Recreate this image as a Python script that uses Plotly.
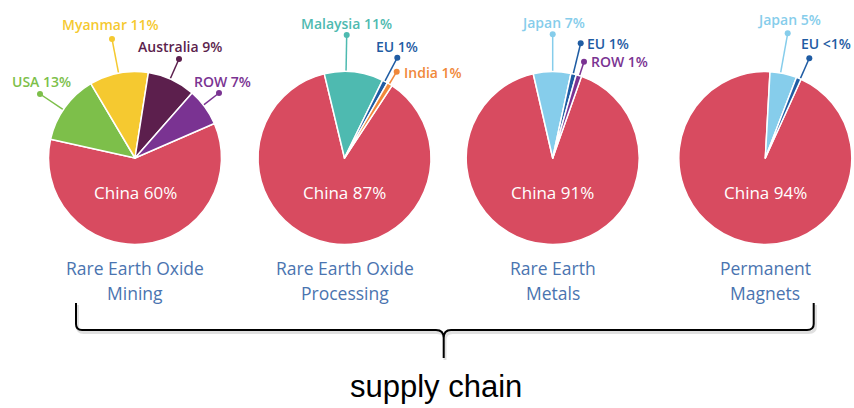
import plotly.graph_objects as go
import math

# ---------------- data ----------------
stages = ["Rare Earth Oxide<br>Mining", "Rare Earth Oxide<br>Processing",
          "Rare Earth<br>Metals", "Permanent<br>Magnets"]

mining_countries = ["China", "USA", "Myanmar", "Australia", "ROW"]
mining_shares = [60, 13, 11, 9, 7]

processing_countries = ["China", "Malaysia", "EU", "India"]
processing_shares = [87, 11, 1, 1]

metals_countries = ["China", "Japan", "EU", "ROW"]
metals_shares = [91, 7, 1, 1]

magnets_countries = ["China", "Japan", "EU"]
magnets_shares = [94, 5, 0.9]

axis_caption = "supply chain"

# ---------------- styling ----------------
W, H = 854, 408
COLORS = {
    "China": "#D84B60",
    "USA": "#7DBF4A",
    "Myanmar": "#F5C930",
    "Australia": "#5C1F4D",
    "ROW": "#7A3392",
    "Malaysia": "#4EBAB0",
    "EU": "#1F5CA3",
    "India": "#F0883A",
    "Japan": "#86CDEB",
}
TITLE_BLUE = "#4A74B0"
FONT = "Open Sans"


def share_text(v):
    return f"{v:g}%" if v >= 1 else "<1%"


# pie layout: centre (px), radius (px), start angle of the first slice
pie_layout = [
    dict(cx=135, cy=158, r=86.5, rotation=66.5),
    dict(cx=344.5, cy=158, r=86.5, rotation=33.3),
    dict(cx=552.7, cy=158, r=86.5, rotation=19.4),
    dict(cx=765.3, cy=158, r=86.5, rotation=24.4),
]

# callout placement per non-China slice: dot (px), label (px), anchor
callout_layout = [
    {"USA": (40, 94, 41, 81, "center"),
     "Myanmar": (112, 39, 110, 24, "center"),
     "Australia": (179, 59, 180, 46, "center"),
     "ROW": (219, 93, 222, 81, "center")},
    {"Malaysia": (346.7, 35, 346.7, 23, "center"),
     "EU": (397.3, 57.7, 397, 46, "center"),
     "India": (396.7, 71.7, 402, 72, "left")},
    {"Japan": (552.7, 34.3, 552.5, 22.5, "center"),
     "EU": (580.7, 43.3, 585, 43.3, "left"),
     "ROW": (584, 61.7, 588.5, 61.7, "left")},
    {"Japan": (787.7, 33.3, 788.8, 19.5, "center"),
     "EU": (809.3, 58.3, 853, 43.5, "right")},
]

series = [
    (mining_countries, mining_shares),
    (processing_countries, processing_shares),
    (metals_countries, metals_shares),
    (magnets_countries, magnets_shares),
]

fig = go.Figure()
annotations = []

# invisible anchor so the pixel-space axes exist
fig.add_trace(go.Scatter(x=[0, W], y=[0, H], mode="markers",
                         marker=dict(opacity=0), hoverinfo="skip",
                         showlegend=False))

for (countries, shares), pl, callouts, stage in zip(series, pie_layout,
                                                    callout_layout, stages):
    cx, cy, r = pl["cx"], pl["cy"], pl["r"]
    fig.add_trace(go.Pie(
        labels=countries, values=shares, sort=False, direction="clockwise",
        rotation=pl["rotation"], textinfo="none",
        marker=dict(colors=[COLORS[c] for c in countries],
                    line=dict(color="white", width=1.5)),
        domain=dict(x=[(cx - r) / W, (cx + r) / W],
                    y=[1 - (cy + r) / H, 1 - (cy - r) / H]),
        hoverinfo="label+value", showlegend=False,
    ))

    # China share written inside the pie
    annotations.append(dict(
        x=cx, y=cy + 34, xref="x", yref="y", showarrow=False,
        text=f"{countries[0]} {share_text(shares[0])}",
        font=dict(family=FONT, size=17, color="white", weight=500),
        xanchor="center", yanchor="middle"))

    # callouts for the smaller producers: dot, leader line towards centre
    for c, v in zip(countries[1:], shares[1:]):
        dx, dy, tx, ty, anchor = callouts[c]
        vx, vy = cx - dx, cy - dy
        dist = math.hypot(vx, vy)
        ex, ey = dx + vx / dist * (dist - r), dy + vy / dist * (dist - r)
        fig.add_trace(go.Scatter(
            x=[dx, ex], y=[dy, ey], mode="lines",
            line=dict(color=COLORS[c], width=1.5),
            hoverinfo="skip", showlegend=False))
        fig.add_trace(go.Scatter(
            x=[dx], y=[dy], mode="markers",
            marker=dict(color=COLORS[c], size=6),
            hoverinfo="skip", showlegend=False))
        annotations.append(dict(
            x=tx, y=ty, xref="x", yref="y", showarrow=False,
            text=f"{c} {share_text(v)}",
            font=dict(family=FONT, size=14, color=COLORS[c], weight=600),
            xanchor=anchor, yanchor="middle"))

    # stage title below the pie, one annotation per line
    for i, line in enumerate(stage.split("<br>")):
        annotations.append(dict(
            x=cx, y=268 + 24.5 * i, xref="x", yref="y", showarrow=False,
            text=line,
            font=dict(family=FONT, size=17.5, color=TITLE_BLUE, weight=500),
            xanchor="center", yanchor="middle"))

# brace spanning the four stages
brace = ("M 76,303 L 76,324 Q 76,330 82,330 L 436,330 Q 443.7,330 443.7,338 "
         "L 443.7,358 M 443.7,338 Q 443.7,330 451,330 L 807,330 "
         "Q 813.7,330 813.7,324 L 813.7,303")
shadow = ("M 77.5,305 L 77.5,326 Q 77.5,332.5 83.5,332.5 L 437,332.5 "
          "Q 445,332.5 445,340 L 445,360 M 445,340 Q 445,332.5 452.5,332.5 "
          "L 808.5,332.5 Q 815.5,332.5 815.5,326 L 815.5,305")
shapes = [
    dict(type="path", path=shadow, xref="x", yref="y",
         line=dict(color="rgba(0,0,0,0.12)", width=3), layer="below"),
    dict(type="path", path=brace, xref="x", yref="y",
         line=dict(color="black", width=2)),
]

annotations.append(dict(
    x=436, y=386, xref="x", yref="y", showarrow=False, text=axis_caption,
    font=dict(family="Liberation Sans, Arial", size=31, color="black"),
    xanchor="center", yanchor="middle"))

fig.update_layout(
    width=W, height=H, margin=dict(l=0, r=0, t=0, b=0),
    paper_bgcolor="white", plot_bgcolor="white",
    xaxis=dict(range=[0, W], visible=False, fixedrange=True),
    yaxis=dict(range=[H, 0], visible=False, fixedrange=True),
    annotations=annotations, shapes=shapes, hovermode="closest",
)

fig.write_html("out.html")
